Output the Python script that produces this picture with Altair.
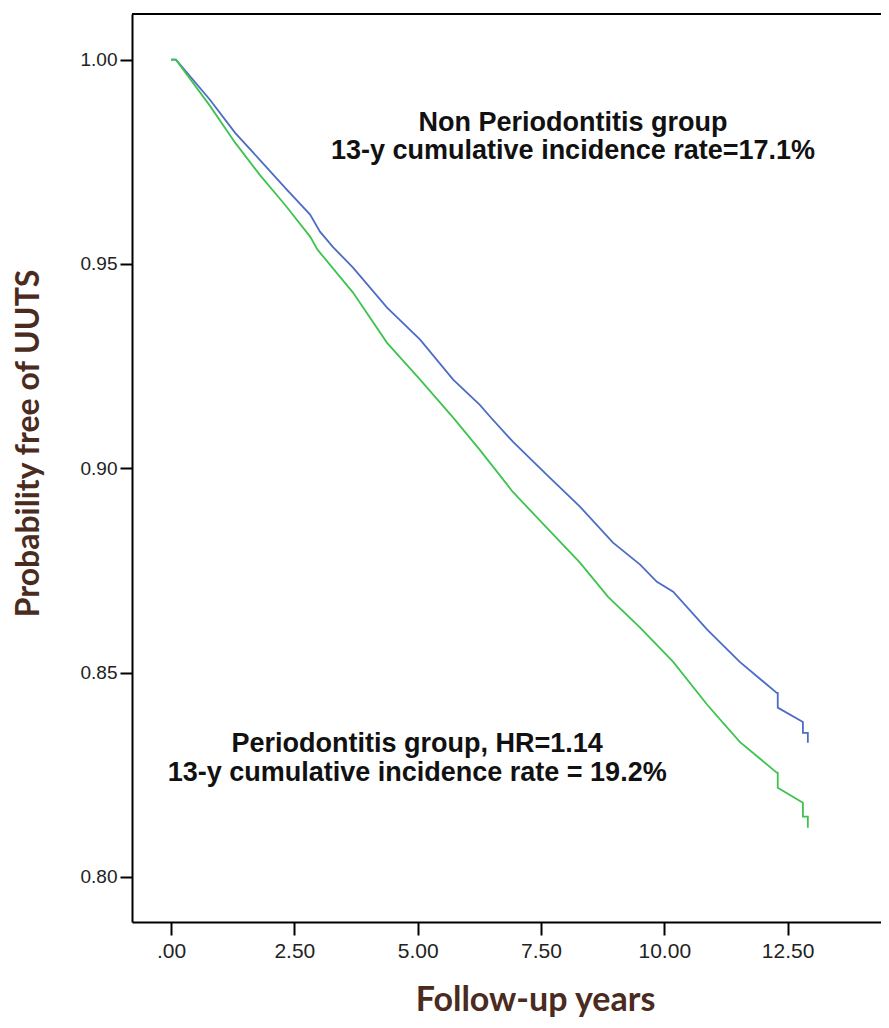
import altair as alt
import pandas as pd

# ---- data ----
groups = ["Non Periodontitis group", "Periodontitis group"]

blue_t = [0.00, 0.10, 0.79, 1.30, 1.80, 2.31, 2.82, 3.02, 3.28, 3.69, 4.38, 5.05, 5.72,
          6.26, 6.47, 6.93, 7.62, 8.29, 8.96, 9.51, 9.85, 10.18, 10.87, 11.53, 12.28,
          12.30, 12.30, 12.81, 12.81, 12.91, 12.91]
blue_s = [1.0000, 1.0000, 0.9902, 0.9821, 0.9755, 0.9687, 0.9621, 0.9579, 0.9542, 0.9491,
          0.9393, 0.9315, 0.9217, 0.9155, 0.9126, 0.9065, 0.8984, 0.8906, 0.8818, 0.8764,
          0.8722, 0.8698, 0.8605, 0.8526, 0.8450, 0.8450, 0.8414, 0.8379, 0.8352, 0.8352,
          0.8328]

green_t = [0.00, 0.10, 0.79, 1.30, 1.80, 2.31, 2.82, 2.97, 3.69, 4.38, 5.05, 5.72, 6.26,
           6.93, 7.62, 8.29, 8.86, 9.51, 10.18, 10.87, 11.53, 12.28, 12.30, 12.30, 12.81,
           12.81, 12.91, 12.91]
green_s = [1.0000, 1.0000, 0.9887, 0.9797, 0.9718, 0.9645, 0.9567, 0.9535, 0.9430, 0.9307,
           0.9217, 0.9124, 0.9045, 0.8942, 0.8854, 0.8769, 0.8685, 0.8610, 0.8526, 0.8421,
           0.8330, 0.8255, 0.8255, 0.8218, 0.8181, 0.8147, 0.8147, 0.8120]

x_ticks = [0, 2.5, 5, 7.5, 10, 12.5]
y_ticks = [0.80, 0.85, 0.90, 0.95, 1.00]

notes = [
    "Non Periodontitis group",
    "13-y cumulative incidence rate=17.1%",
    "Periodontitis  group, HR=1.14",
    "13-y cumulative incidence rate = 19.2%",
]
note_t = [8.15, 8.15, 4.99, 4.99]
note_s = [0.9826, 0.9757, 0.8306, 0.8234]

# ---- tables ----
rows = []
for i, (t, s) in enumerate(zip(blue_t, blue_s)):
    rows.append({"group": groups[0], "t": t, "s": s, "i": i})
for i, (t, s) in enumerate(zip(green_t, green_s)):
    rows.append({"group": groups[1], "t": t, "s": s, "i": i})
df = pd.DataFrame(rows)
notes_df = pd.DataFrame({"text": notes, "t": note_t, "s": note_s})

BROWN = "#4a2b1e"
W, H = 749, 908

x_scale = alt.Scale(domain=[-0.7906, 14.393], nice=False, zero=False)
y_scale = alt.Scale(domain=[0.78893, 1.01119], nice=False, zero=False)

x_axis = alt.Axis(
    values=x_ticks,
    labelExpr="datum.value == 0 ? '.00' : format(datum.value, '.2f')",
    title="Follow-up years",
    grid=False,
    domainColor="black", domainWidth=2,
    tickColor="black", tickWidth=2, tickSize=13,
    labelFont="Liberation Sans", labelFontSize=21, labelColor="#222222", labelPadding=5,
    titleFont="Lato", titleFontWeight="bold", titleFontSize=34, titleColor=BROWN,
    titleX=403, titleY=78, titleAlign="center", titleBaseline="middle",
)
y_axis = alt.Axis(
    values=y_ticks,
    format=".2f",
    title="Probability free of UUTS",
    grid=False,
    domainColor="black", domainWidth=2,
    tickColor="black", tickWidth=2, tickSize=12,
    labelFont="Liberation Sans", labelFontSize=19, labelColor="#222222", labelPadding=3,
    titleFont="Lato", titleFontWeight="bold", titleFontSize=32, titleColor=BROWN,
    titleX=-104, titleY=429, titleAngle=270, titleAlign="center", titleBaseline="middle",
)

lines = alt.Chart(df).mark_line(strokeWidth=1.8).encode(
    x=alt.X("t:Q", scale=x_scale, axis=x_axis),
    y=alt.Y("s:Q", scale=y_scale, axis=y_axis),
    color=alt.Color("group:N", scale=alt.Scale(domain=groups, range=["#4d6cc6", "#3ec44e"]),
                    legend=None),
    order=alt.Order("i:Q"),
)

texts = alt.Chart(notes_df).mark_text(
    font="Liberation Sans", fontWeight="bold", fontSize=27, color="#111111",
    align="center", baseline="alphabetic",
).encode(
    x=alt.X("t:Q", scale=x_scale),
    y=alt.Y("s:Q", scale=y_scale),
    text="text:N",
)

top_line = alt.Chart(pd.DataFrame({"a": [0]})).mark_rule(color="black", strokeWidth=2).encode(
    x=alt.value(0), x2=alt.value(W), y=alt.value(0)
)

chart = alt.layer(lines, texts, top_line).properties(
    width=W, height=H,
    padding={"left": 124, "top": 6, "right": 0, "bottom": 98},
    autosize=alt.AutoSizeParams(type="none"),
).configure_view(fill="#f0f0f0", stroke=None).configure(background="white")

chart.save("out.html", embed_options={"renderer": "svg", "actions": False})
